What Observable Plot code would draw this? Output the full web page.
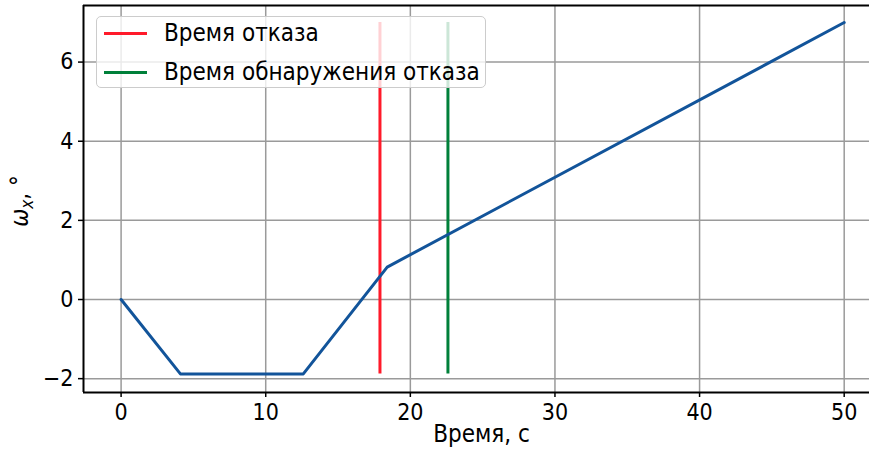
<!DOCTYPE html>
<html><head><meta charset="utf-8">
<script src="https://cdn.jsdelivr.net/npm/d3@7"></script>
<script src="https://cdn.jsdelivr.net/npm/@observablehq/plot@0.6"></script>
<style>
html,body{margin:0;padding:0;background:#fff;}
#wrap{position:relative;width:869px;height:455px;overflow:hidden;font-family:"DejaVu Sans Condensed","DejaVu Sans",sans-serif;}
.legend{position:absolute;left:96px;top:16px;width:390px;height:72px;border:1px solid #cccccc;border-radius:5px;background:rgba(255,255,255,0.8);box-sizing:border-box;}
.item{position:absolute;left:7px;height:26px;display:flex;align-items:center;font-size:24px;color:#000;white-space:nowrap;}
.sw{display:inline-block;width:43px;height:3px;margin-right:17px;}
</style>
</head><body>
<div id="wrap"></div>
<script>
const timeS = [0, 4.1, 12.6, 18.4, 50];
const omegaX = [0, -1.88, -1.88, 0.82, 7.0];
const eventNames = ["Время отказа", "Время обнаружения отказа"];
const eventTimes = [17.9, 22.6];
const eventColors = ["#ff1a2a", "#00803a"];
const eventLow = -1.88, eventHigh = 7.0;
const xTicks = [0, 10, 20, 30, 40, 50];
const yTicks = [-2, 0, 2, 4, 6];

const series = timeS.map((t, i) => ({t, w: omegaX[i]}));
const events = eventTimes.map((t, i) => ({t, name: eventNames[i], color: eventColors[i]}));
const fmt = d => d < 0 ? "\u2212" + (-d) : String(d);
const xDom = [-2.6, 51.75], yDom = [-2.35, 7.43];
const FONT = "DejaVu Sans Condensed, DejaVu Sans, sans-serif";

const plot = Plot.plot({
  width: 869, height: 455,
  marginLeft: 83, marginRight: 0, marginTop: 5, marginBottom: 63,
  style: {fontFamily: FONT, fontSize: "23px", color: "#000", background: "#fff"},
  x: {domain: xDom},
  y: {domain: yDom},
  marks: [
    Plot.gridX(xTicks, {stroke: "#9a9a9a", strokeOpacity: 1, strokeWidth: 1.5}),
    Plot.gridY(yTicks, {stroke: "#9a9a9a", strokeOpacity: 1, strokeWidth: 1.5}),
    Plot.axisX({ticks: xTicks, tickSize: 5, tickPadding: 6, tickFormat: fmt, label: null, strokeWidth: 1.5}),
    Plot.axisY({ticks: yTicks, tickSize: 5, tickPadding: 5, tickFormat: fmt, label: null, strokeWidth: 1.5}),
    Plot.ruleX(events, {x: "t", y1: eventLow, y2: eventHigh, stroke: "color", strokeWidth: 3}),
    Plot.line(series, {x: "t", y: "w", stroke: "#12549a", strokeWidth: 3}),
    Plot.ruleX([xDom[0]], {stroke: "#000", strokeWidth: 2}),
    Plot.ruleY([yDom[0], yDom[1]], {stroke: "#000", strokeWidth: 2}),
    Plot.text(["Время, с"], {frameAnchor: "bottom", dx: 5, dy: 49, text: d => d, fontSize: 24})
  ]
});
const wrap = document.getElementById("wrap");
wrap.appendChild(plot);

// y-axis label with subscript
const svg = d3.select(plot);
const yl = svg.append("text")
  .attr("transform", "translate(28,201) rotate(-90)")
  .attr("text-anchor", "middle")
  .attr("font-family", FONT)
  .attr("font-size", 24)
  .attr("fill", "#000");
yl.append("tspan").attr("font-style", "italic").text("ω");
yl.append("tspan").attr("font-style", "italic").attr("font-size", 17).attr("dy", 5).text("x");
yl.append("tspan").attr("dy", -5).text(", °");

// legend
const leg = document.createElement("div");
leg.className = "legend";
events.forEach((e, i) => {
  const it = document.createElement("div");
  it.className = "item";
  it.style.top = (3 + i * 39) + "px";
  const sw = document.createElement("span");
  sw.className = "sw"; sw.style.background = e.color;
  it.appendChild(sw);
  it.appendChild(document.createTextNode(e.name));
  leg.appendChild(it);
});
wrap.appendChild(leg);
</script>
</body></html>
